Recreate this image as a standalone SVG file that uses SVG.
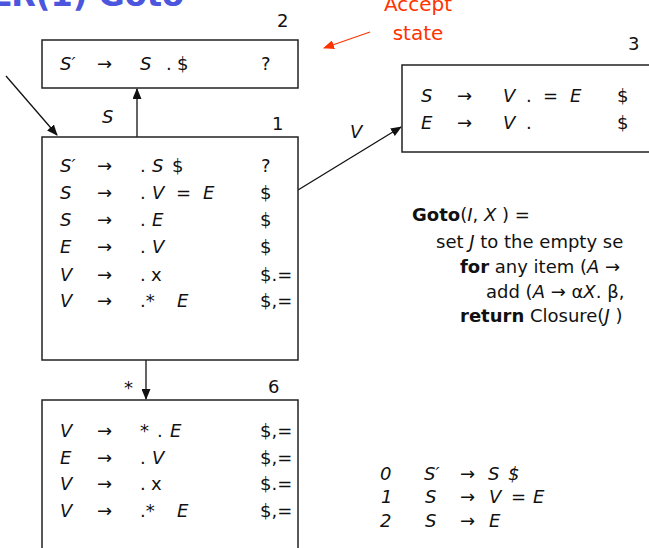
<svg xmlns="http://www.w3.org/2000/svg" width="649" height="548" viewBox="0 0 649 548">
<defs>
<style>
text{font-family:"DejaVu Sans","Liberation Sans",sans-serif;font-size:18px;fill:#111}
.i{font-style:italic}
.b{font-weight:bold}
.box{fill:#fff;stroke:#222;stroke-width:1.5}
.c{stroke:#111;stroke-width:1.3;fill:none}
.num{font-size:18px}
.title{font-size:32px;font-weight:bold;fill:#4b55dd}
.red{fill:#ff3300;font-size:20px}
</style>
<marker id="ah" markerWidth="11" markerHeight="9" refX="10" refY="4.5" orient="auto" markerUnits="userSpaceOnUse">
<path d="M0,0 L11,4.5 L0,9 z" fill="#111"/>
</marker>
<marker id="ahr" markerWidth="11" markerHeight="9" refX="10" refY="4.5" orient="auto" markerUnits="userSpaceOnUse">
<path d="M0,0 L11,4.5 L0,9 z" fill="#ff3300"/>
</marker>
</defs>
<rect width="649" height="548" fill="#fff"/>

<text class="title" x="184" y="6" text-anchor="end">LR(1) Goto</text>

<g id="connectors">
<line class="c" x1="6" y1="76" x2="57" y2="135" marker-end="url(#ah)"/>
<line class="c" x1="137" y1="137" x2="137" y2="89" marker-end="url(#ah)"/>
<line class="c" x1="298" y1="190" x2="401" y2="127" marker-end="url(#ah)"/>
<line class="c" x1="146" y1="360" x2="146" y2="399" marker-end="url(#ah)"/>
<line x1="370" y1="32" x2="324" y2="48" stroke="#ff3300" stroke-width="1.3" marker-end="url(#ahr)"/>
<text class="i" x="102" y="123">S</text>
<text x="124" y="394">*</text>
<text class="i" x="350" y="138">V</text>
</g>

<g id="accept-label">
<text class="red" x="418" y="11" text-anchor="middle">Accept</text>
<text class="red" x="418" y="40" text-anchor="middle">state</text>
</g>

<g id="state2">
<rect class="box" x="42" y="40" width="256" height="48"/>
<text class="num" x="277" y="27">2</text>
<text class="i" x="60" y="70">S′</text>
<text x="97" y="70">→</text>
<text x="140" y="70"><tspan class="i">S</tspan><tspan x="166">.</tspan><tspan x="177">$</tspan></text>
<text x="261" y="70">?</text>
</g>

<g id="state1">
<rect class="box" x="42" y="137" width="256" height="223"/>
<text class="num" x="272" y="130">1</text>
<text class="i" x="60" y="172">S′</text><text x="97" y="172">→</text>
<text x="140" y="172">.<tspan class="i" x="152">S</tspan><tspan x="172">$</tspan></text><text x="261" y="172">?</text>
<text class="i" x="60" y="199">S</text><text x="97" y="199">→</text>
<text x="140" y="199">.<tspan class="i" x="152">V</tspan><tspan x="176">=</tspan><tspan class="i" x="203">E</tspan></text><text x="260" y="199">$</text>
<text class="i" x="60" y="226">S</text><text x="97" y="226">→</text>
<text x="140" y="226">.<tspan class="i" x="152">E</tspan></text><text x="260" y="226">$</text>
<text class="i" x="60" y="253">E</text><text x="97" y="253">→</text>
<text x="140" y="253">.<tspan class="i" x="152">V</tspan></text><text x="260" y="253">$</text>
<text class="i" x="60" y="281">V</text><text x="97" y="281">→</text>
<text x="140" y="281">.<tspan x="151">x</tspan></text><text x="260" y="281">$.=</text>
<text class="i" x="60" y="307">V</text><text x="97" y="307">→</text>
<text x="140" y="307">.*<tspan class="i" x="177">E</tspan></text><text x="260" y="307">$,=</text>
</g>

<g id="state3">
<rect class="box" x="402" y="65" width="260" height="87"/>
<text class="num" x="628" y="50">3</text>
<text class="i" x="421" y="102">S</text><text x="457" y="102">→</text>
<text x="503" y="102"><tspan class="i">V</tspan><tspan x="526">.</tspan><tspan x="543">=</tspan><tspan class="i" x="570">E</tspan></text><text x="617" y="102">$</text>
<text class="i" x="421" y="129">E</text><text x="457" y="129">→</text>
<text x="503" y="129"><tspan class="i">V</tspan><tspan x="526">.</tspan></text><text x="617" y="129">$</text>
</g>

<g id="state6">
<rect class="box" x="42" y="400" width="256" height="160"/>
<text class="num" x="268" y="393">6</text>
<text class="i" x="60" y="437">V</text><text x="97" y="437">→</text>
<text x="140" y="437">*<tspan x="157">.</tspan><tspan class="i" x="170">E</tspan></text><text x="260" y="437">$,=</text>
<text class="i" x="60" y="464">E</text><text x="97" y="464">→</text>
<text x="140" y="464">.<tspan class="i" x="152">V</tspan></text><text x="260" y="464">$,=</text>
<text class="i" x="60" y="490">V</text><text x="97" y="490">→</text>
<text x="140" y="490">.<tspan x="151">x</tspan></text><text x="260" y="490">$.=</text>
<text class="i" x="60" y="517">V</text><text x="97" y="517">→</text>
<text x="140" y="517">.*<tspan class="i" x="177">E</tspan></text><text x="260" y="517">$,=</text>
</g>

<g id="goto-def">
<text x="412" y="221"><tspan class="b">Goto</tspan>(<tspan class="i">I</tspan>, <tspan class="i">X</tspan> ) =</text>
<text x="436" y="248">set <tspan class="i">J</tspan> to the empty se</text>
<text x="460" y="273"><tspan class="b">for</tspan> any item (<tspan class="i">A</tspan> →</text>
<text x="486" y="298">add (<tspan class="i">A</tspan> → α<tspan class="i">X</tspan>. β,</text>
<text x="460" y="322"><tspan class="b">return</tspan> Closure(<tspan class="i">J</tspan> )</text>
</g>

<g id="grammar">
<text class="i" x="380" y="480">0</text><text class="i" x="424" y="480">S′</text><text x="460" y="480">→</text>
<text x="488" y="480"><tspan class="i">S</tspan> <tspan class="i" x="508">$</tspan></text>
<text class="i" x="381" y="503">1</text><text class="i" x="425" y="503">S</text><text x="460" y="503">→</text>
<text x="489" y="503"><tspan class="i">V</tspan><tspan x="511">=</tspan><tspan class="i" x="533">E</tspan></text>
<text class="i" x="380" y="527">2</text><text class="i" x="425" y="527">S</text><text x="460" y="527">→</text>
<text class="i" x="489" y="527">E</text>
</g>
</svg>
